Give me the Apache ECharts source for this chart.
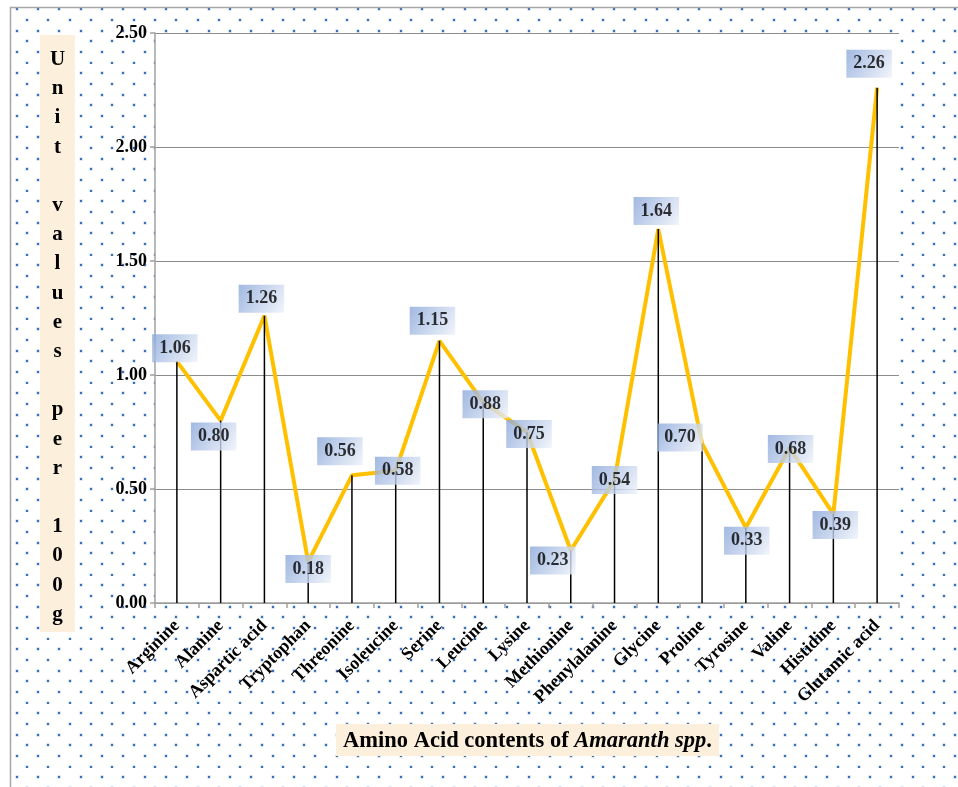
<!DOCTYPE html>
<html>
<head>
<meta charset="utf-8">
<script src="https://cdn.jsdelivr.net/npm/echarts@6/dist/echarts.min.js"></script>
<style>
  html, body { margin: 0; padding: 0; background: #fff; }
  #main { width: 958px; height: 787px; }
</style>
</head>
<body>
<div id="main"></div>
<script>
// data
var categories = ['Arginine', 'Alanine', 'Aspartic acid', 'Tryptophan', 'Threonine', 'Isoleucine',
    'Serine', 'Leucine', 'Lysine', 'Methionine', 'Phenylalanine', 'Glycine', 'Proline',
    'Tyrosine', 'Valine', 'Histidine', 'Glutamic acid'];
var values = [1.06, 0.80, 1.26, 0.18, 0.56, 0.58, 1.15, 0.88, 0.75, 0.23, 0.54, 1.64, 0.70,
    0.33, 0.68, 0.39, 2.26];
var yTicks = [0, 0.5, 1.0, 1.5, 2.0, 2.5];

// label nudges (px) so the boxes sit where they are in the picture
var labelNudge = [[-2, -13], [-7, 16], [-3, -17], [0, 7], [-12, -24], [2, 0], [-7, -20], [2, 2],
    [2, 2], [-18, 10], [0, 0], [-2, -18], [-22, -6], [1, 13], [1, 1], [2, 11], [-8, -24]];

var serif = '"Liberation Serif", "Times New Roman", serif';

// dotted background tile
function dotTile() {
    var c = document.createElement('canvas');
    c.width = 64; c.height = 64;
    var ctx = c.getContext('2d');
    var s = 64 / 3;
    for (var r = 0; r < 6; r++) {
        for (var k = 0; k < 3; k++) {
            var x = Math.round((r % 2 === 0 ? 16.5 : 5.8) + k * s);
            var y = Math.round(9.3 + r * s / 2);
            ctx.fillStyle = '#b4c9e6';
            ctx.fillRect(x - 1.5, y - 1.5, 3, 3);
            ctx.fillStyle = '#3d70b4';
            ctx.fillRect(x - 1, y - 1, 2, 2);
        }
    }
    return c;
}

var chart = echarts.init(document.getElementById('main'));

var labelData = values.map(function (v, i) {
    return {
        value: v,
        label: { offset: labelNudge[i] }
    };
});

var option = {
    animation: false,
    grid: {
        left: 155, right: 59, top: 33, bottom: 184,
        show: true, backgroundColor: '#ffffff', borderWidth: 0
    },
    graphic: [
        {
            type: 'rect', z: -100,
            shape: { x: 10.5, y: 7.5, width: 990, height: 820 },
            style: { fill: { image: dotTile(), repeat: 'repeat' }, stroke: '#a6a6a6', lineWidth: 1.5 }
        },
        {
            type: 'rect', z: 1,
            shape: { x: 40, y: 35, width: 35, height: 597 },
            style: { fill: '#fcefdc' }
        },
        {
            type: 'text', z: 2, x: 57.5, y: 45,
            style: {
                text: 'U\nn\ni\nt\n\nv\na\nl\nu\ne\ns\n\np\ne\nr\n\n1\n0\n0\ng',
                font: 'bold 21px ' + serif,
                lineHeight: 29.2,
                fill: '#000',
                align: 'center',
                verticalAlign: 'top'
            }
        },
        {
            type: 'rect', z: 1,
            shape: { x: 336, y: 724, width: 383, height: 32 },
            style: { fill: '#fcefdc' }
        },
        {
            type: 'text', z: 2, x: 527.5, y: 741,
            style: {
                text: '{b|Amino Acid contents of }{i|Amaranth spp}{b|.}',
                align: 'center',
                verticalAlign: 'middle',
                rich: {
                    b: { fontFamily: serif, fontWeight: 'bold', fontSize: 22.5, fill: '#000' },
                    i: { fontFamily: serif, fontWeight: 'bold', fontStyle: 'italic', fontSize: 22.5, fill: '#000' }
                }
            }
        }
    ],
    xAxis: {
        type: 'category',
        data: categories,
        boundaryGap: true,
        axisLine: { lineStyle: { color: '#a0a0a0', width: 1.5 } },
        axisTick: { show: true, length: 5, lineStyle: { color: '#a0a0a0', width: 1.5 } },
        axisLabel: {
            rotate: 45, interval: 0, margin: 20,
            fontFamily: serif, fontWeight: 'bold', fontSize: 18, color: '#000'
        }
    },
    yAxis: {
        type: 'value',
        min: yTicks[0], max: yTicks[yTicks.length - 1], interval: 0.5,
        axisLine: { show: true, lineStyle: { color: '#a0a0a0', width: 1.5 } },
        axisTick: { show: true, length: 5, lineStyle: { color: '#a0a0a0', width: 1.5 } },
        splitLine: { lineStyle: { color: '#8c8c8c', width: 1.2 } },
        axisLabel: {
            margin: 8,
            fontFamily: serif, fontWeight: 'bold', fontSize: 18, color: '#000',
            formatter: function (v) { return v.toFixed(2); }
        }
    },
    series: [
        {
            name: 'values', type: 'line', z: 2,
            data: values,
            symbol: 'none',
            lineStyle: { color: '#ffc000', width: 4 }
        },
        {
            name: 'drop', type: 'bar', z: 3,
            data: values,
            barWidth: 1.5,
            itemStyle: { color: '#000' }
        },
        {
            name: 'labels', type: 'scatter', z: 5,
            data: labelData,
            symbolSize: 0,
            label: {
                show: true,
                position: 'inside',
                formatter: function (p) { return p.value.toFixed(2); },
                fontFamily: serif, fontWeight: 'bold', fontSize: 18, color: '#000',
                padding: [6, 7, 4, 7],
                backgroundColor: {
                    type: 'linear', x: 0, y: 0, x2: 1, y2: 1,
                    colorStops: [
                        { offset: 0, color: '#8aa7da' },
                        { offset: 1, color: '#eef2fa' }
                    ]
                }
            }
        }
    ]
};

chart.setOption(option);
</script>
</body>
</html>
